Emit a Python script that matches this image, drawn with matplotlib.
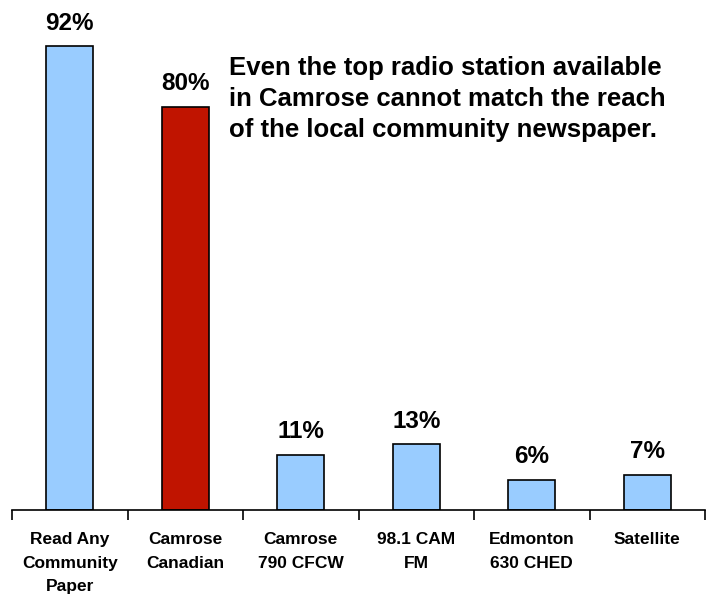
import matplotlib.pyplot as plt
import numpy as np

plt.rcParams['font.family'] = ['Liberation Sans', 'DejaVu Sans']
plt.rcParams['font.weight'] = 'bold'

categories = ['Read Any\nCommunity\nPaper', 'Camrose\nCanadian', 'Camrose\n790 CFCW',
              '98.1 CAM\nFM', 'Edmonton\n630 CHED', 'Satellite']
values = [92, 80, 11, 13, 6, 7]
colors = ['#99CCFF', '#C01400', '#99CCFF', '#99CCFF', '#99CCFF', '#99CCFF']

fig = plt.figure(figsize=(7.14, 5.97), dpi=100)
ax = fig.add_axes([12 / 714, 87 / 597, 693 / 714, 504 / 597])

x = np.arange(len(values))
ax.bar(x, values, width=0.41, color=colors, edgecolor='black', linewidth=1.2)

for xi, v in zip(x, values):
    ax.annotate(f'{v}%', (xi, v), xytext=(0, 12), textcoords='offset points',
                ha='center', va='baseline', fontsize=17.5, fontweight='bold')

ax.set_xlim(-0.5, len(values) - 0.5)
ax.set_ylim(0, 100)
for s in ['top', 'right', 'left']:
    ax.spines[s].set_visible(False)
ax.spines['bottom'].set_linewidth(1.2)
ax.set_yticks([])

ax.set_xticks(x)
ax.set_xticklabels(categories, fontsize=12.5, fontweight='bold', linespacing=1.7)
ax.tick_params(axis='x', which='major', length=0, pad=16)
ax.set_xticks(np.arange(len(values) + 1) - 0.5, minor=True)
ax.tick_params(axis='x', which='minor', length=7, width=1.2, direction='out')

fig.text(229 / 714, 1 - 56 / 597,
         'Even the top radio station available\nin Camrose cannot match the reach\nof the local community newspaper.',
         ha='left', va='top', fontsize=18.5, fontweight='bold', linespacing=1.36)

fig.savefig('out.png', dpi=100)
